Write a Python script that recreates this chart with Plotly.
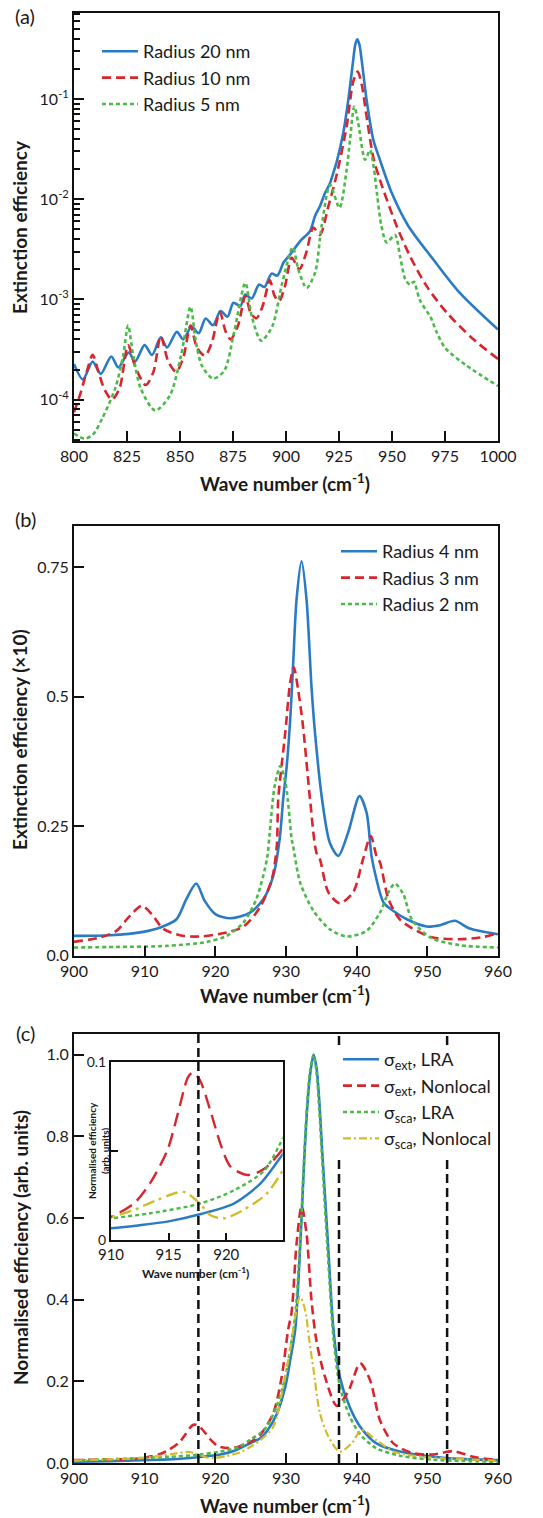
import plotly.graph_objects as go

# ---------------- Panel (a) data (log scale) ----------------
a_x_r20 = [800, 804.2, 808.8, 812.6, 817.6, 820.9, 825.8, 828.8, 833.3, 836.8, 840.9, 843.9,
           848.5, 851.5, 855.5, 858.8, 862.1, 865.6, 869.1, 872.4, 875.2, 878.5, 880.8, 883.8,
           887.3, 889.8, 893.2, 895.9, 898.9, 901.9, 906.6, 911.3, 913.7, 916.0, 918.4, 920.8,
           922.3, 924.0, 927.0, 929.4, 931.7, 932.7, 933.6, 934.6, 935.7, 938.0, 941.2, 944.3,
           949.9, 957.7, 969.5, 982.0, 1000]
a_y_r20 = [2.27e-4, 1.59e-4, 2.4e-4, 1.81e-4, 2.7e-4, 2.1e-4, 2.96e-4, 2.4e-4, 3.5e-4, 2.79e-4,
           4.2e-4, 3.32e-4, 4.75e-4, 4.0e-4, 5.37e-4, 4.6e-4, 6.45e-4, 5.53e-4, 7.66e-4, 6.73e-4,
           9.27e-4, 8.59e-4, 1.12e-3, 1.02e-3, 1.41e-3, 1.33e-3, 1.81e-3, 1.73e-3, 2.35e-3, 2.8e-3,
           3.8e-3, 4.8e-3, 6.8e-3, 8.5e-3, 1.15e-2, 1.45e-2, 1.82e-2, 2.4e-2, 4.57e-2, 9.8e-2,
           0.244, 0.35, 0.393, 0.35, 0.244, 0.098, 0.039, 0.0247, 0.0115, 5.4e-3, 2.5e-3,
           1.16e-3, 5.0e-4]

a_x_r10 = [800, 803, 806, 808.8, 811.5, 814.5, 817.9, 821.5, 825.5, 829, 833.8, 837.5, 840.9,
           844.5, 848.2, 851.5, 855, 858, 861.8, 865, 868.8, 871.5, 873.9, 877.5, 880.8, 883.5,
           886.1, 889, 892.4, 894.5, 896.7, 899.5, 902.7, 906.3, 909.5, 912.9, 916, 920, 923.9,
           928.6, 931.7, 933.8, 935.7, 938, 941.2, 944.3, 952.2, 958.5, 966.4, 975.8, 988.4, 1000]
a_y_r10 = [7.5e-5, 1.15e-4, 1.9e-4, 2.8e-4, 1.9e-4, 1.25e-4, 1.0e-4, 1.3e-4, 3.5e-4, 2.1e-4,
           1.4e-4, 1.9e-4, 4.3e-4, 2.4e-4, 1.9e-4, 2.6e-4, 5.5e-4, 3.3e-4, 2.75e-4, 3.7e-4,
           7.5e-4, 4.8e-4, 4.0e-4, 5.6e-4, 1.08e-3, 7.2e-4, 6.5e-4, 8.6e-4, 1.55e-3, 1.1e-3,
           9.6e-4, 1.35e-3, 2.6e-3, 2.0e-3, 2.9e-3, 5.2e-3, 4.4e-3, 8.5e-3, 1.75e-2, 5.3e-2,
           0.149, 0.187, 0.14, 0.067, 0.026, 0.0156, 5.4e-3, 2.7e-3, 1.35e-3, 7.4e-4, 4.0e-4,
           2.55e-4]

a_x_r5 = [800, 805, 809, 813.3, 819.4, 823.2, 825.5, 827.7, 831.5, 838.3, 845.2, 850.5, 855,
          857.3, 860.3, 865.6, 870.9, 875.5, 880.8, 883.8, 888.3, 893.6, 898.2, 903.2, 905.8,
          909.7, 913.7, 916.8, 920.8, 925.2, 928.6, 930.2, 932.2, 934.1, 937.3, 939.6, 941.5,
          943.0, 945.0, 947.5, 951.4, 953.8, 956.2, 958.5, 960.3, 963.0, 966.4, 968.0, 971.1,
          975.0, 985.0, 1000]
a_y_r5 = [4.6e-5, 4.1e-5, 4.5e-5, 6.5e-5, 1.29e-4, 2.76e-4, 5.5e-4, 2.96e-4, 1.29e-4, 7.8e-5,
          1.1e-4, 2.76e-4, 8.45e-4, 4.0e-4, 2.19e-4, 1.62e-4, 1.95e-4, 4.68e-4, 1.46e-3, 6.84e-4,
          3.87e-4, 5.45e-4, 1.46e-3, 3.3e-3, 2.0e-3, 1.3e-3, 1.85e-3, 5.4e-3, 1.39e-2, 8.2e-3,
          1.96e-2, 3.9e-2, 0.084, 0.057, 0.0247, 0.031, 0.02, 0.011, 5.4e-3, 3.7e-3, 4.4e-3,
          2.7e-3, 1.6e-3, 1.4e-3, 1.5e-3, 1.0e-3, 7.6e-4, 6.8e-4, 4.7e-4, 3.3e-4, 2.2e-4, 1.37e-4]

a_names = ["Radius 20 nm", "Radius 10 nm", "Radius 5 nm"]
a_tickvals = [1e-4, 1e-3, 1e-2, 1e-1]
a_ticktext = ["10<sup>-4</sup>", "10<sup>-3</sup>", "10<sup>-2</sup>", "10<sup>-1</sup>"]

# ---------------- Panel (b) data ----------------
b_x_r4 = [900, 905.1, 909.8, 912.2, 914.5, 915.9, 917.3, 918.5, 920.0, 922.1, 924.9, 926.8,
          928.2, 929.1, 929.6, 930.1, 930.6, 931.0, 931.5, 932.2, 932.9, 933.6, 934.1, 935.1,
          936.2, 937.4, 938.8, 940.4, 941.4, 942.1, 942.8, 943.8, 945.2, 947.1, 949.9, 951.8,
          953.9, 956.0, 960]
b_y_r4 = [0.038, 0.039, 0.0456, 0.054, 0.070, 0.109, 0.139, 0.1055, 0.080, 0.072, 0.083, 0.109,
          0.154, 0.225, 0.302, 0.366, 0.457, 0.56, 0.689, 0.762, 0.689, 0.521, 0.431, 0.302,
          0.218, 0.1925, 0.238, 0.308, 0.276, 0.1925, 0.1475, 0.1025, 0.086, 0.070, 0.056,
          0.0586, 0.067, 0.052, 0.041]

b_x_r3 = [900, 903.7, 906.0, 907.9, 909.6, 911.0, 912.6, 915.0, 917.8, 921.6, 924.0, 926.3,
          928.0, 928.7, 928.9, 929.9, 930.6, 931.1, 931.7, 932.4, 933.4, 934.3, 934.8, 936.0,
          937.6, 939.5, 940.9, 942.0, 942.8, 943.3, 944.5, 946.1, 948.5, 950.8, 954.6, 957.5, 960]
b_y_r3 = [0.0263, 0.0348, 0.0476, 0.0766, 0.0959, 0.0798, 0.052, 0.039, 0.0367, 0.0444, 0.056,
          0.0928, 0.1475, 0.212, 0.302, 0.431, 0.528, 0.557, 0.515, 0.444, 0.302, 0.199, 0.186,
          0.122, 0.101, 0.122, 0.186, 0.231, 0.1925, 0.18, 0.109, 0.070, 0.0476, 0.0348, 0.0315,
          0.0348, 0.0425]

b_x_r2 = [900, 906.0, 913.1, 918.8, 921.6, 924.0, 925.8, 927.3, 927.7, 928.4, 929.2, 930.0,
          930.8, 931.0, 932.0, 933.9, 936.2, 938.6, 941.4, 943.3, 944.5, 945.4, 946.6, 947.8,
          950.4, 954.6, 960]
b_y_r2 = [0.0155, 0.0165, 0.0186, 0.0263, 0.038, 0.064, 0.109, 0.186, 0.238, 0.328, 0.366,
          0.328, 0.225, 0.212, 0.141, 0.086, 0.0508, 0.0367, 0.0476, 0.083, 0.122, 0.139,
          0.1185, 0.070, 0.0348, 0.020, 0.0155]

b_names = ["Radius 4 nm", "Radius 3 nm", "Radius 2 nm"]

# ---------------- Panel (c) data ----------------
c_x_ext_lra = [900, 905, 910, 912.5, 915, 917.8, 920.7, 923, 925, 926.3, 927.3, 928.7, 929.9,
               930.6, 931.3, 931.8, 932.2, 932.6, 933.0, 933.4, 933.9, 934.3, 934.7, 935.1,
               935.5, 936.0, 936.7, 937.6, 939.0, 940.5, 942.8, 946.1, 950.8, 955, 960]
c_y_ext_lra = [0.003, 0.0045, 0.0066, 0.0083, 0.0105, 0.0146, 0.0206, 0.032, 0.049, 0.06,
               0.078, 0.12, 0.187, 0.252, 0.326, 0.46, 0.60, 0.75, 0.87, 0.95, 1.0, 0.97, 0.89,
               0.77, 0.66, 0.52, 0.33, 0.212, 0.138, 0.089, 0.048, 0.028, 0.0155, 0.010, 0.007]

c_x_ext_nl = [900, 905, 908.4, 910, 912, 913.4, 914.9, 915.8, 916.7, 917.1, 917.7, 918.7, 919.5,
              920.4, 921.9, 923.3, 925, 926.3, 928.2, 929.4, 930.3, 930.8, 931.5, 932.2, 932.9,
              933.6, 934.3, 935.5, 937.2, 938.8, 940.5, 941.9, 943.3, 945.2, 948, 950.8, 953.7,
              956.5, 960]
c_y_ext_nl = [0.007, 0.0085, 0.010, 0.013, 0.0206, 0.032, 0.0506, 0.071, 0.0917, 0.094, 0.090,
              0.071, 0.054, 0.041, 0.0365, 0.040, 0.052, 0.068, 0.122, 0.212, 0.326, 0.37, 0.538,
              0.629, 0.563, 0.40, 0.30, 0.212, 0.140, 0.175, 0.244, 0.203, 0.105, 0.048, 0.024,
              0.021, 0.029, 0.015, 0.007]

c_x_sca_lra = [900, 905, 910, 913.4, 917.8, 920.7, 923.3, 925, 926.3, 927.3, 928.7, 929.9,
               930.6, 931.3, 931.8, 932.2, 932.6, 933.0, 933.4, 933.9, 934.3, 934.7, 935.1,
               935.5, 936.0, 936.7, 937.6, 939.0, 940.5, 942.8, 946.1, 950.8, 955, 960]
c_y_sca_lra = [0.006, 0.009, 0.0122, 0.015, 0.0206, 0.028, 0.039, 0.058, 0.072, 0.09, 0.14,
               0.21, 0.28, 0.36, 0.48, 0.61, 0.76, 0.88, 0.96, 1.0, 0.96, 0.87, 0.75, 0.63,
               0.49, 0.31, 0.19, 0.115, 0.07, 0.036, 0.018, 0.008, 0.005, 0.003]

c_x_sca_nl = [900, 905, 910, 912, 914, 916.3, 917.7, 918.6, 919.8, 921.5, 923.5, 925, 926.3,
              928.2, 929.6, 930.8, 931.3, 932, 932.7, 933.3, 933.9, 934.8, 936, 937.6, 939.3,
              940.7, 942.8, 945.2, 949, 955.6, 960]
c_y_sca_nl = [0.006, 0.009, 0.013, 0.0169, 0.0225, 0.027, 0.0206, 0.014, 0.0122, 0.0169, 0.026,
              0.040, 0.055, 0.089, 0.187, 0.30, 0.359, 0.408, 0.375, 0.30, 0.228, 0.122, 0.065,
              0.028, 0.048, 0.081, 0.056, 0.028, 0.0155, 0.009, 0.0056]

c_names = ["σ<sub>ext</sub>, LRA", "σ<sub>ext</sub>, Nonlocal",
           "σ<sub>sca</sub>, LRA", "σ<sub>sca</sub>, Nonlocal"]
c_vlines = [917.6, 937.5, 952.8]

# ---------------- styling ----------------
W, H = 543, 1518
BLUE, RED, GREEN, YELLOW = "#2b7bc4", "#d8262f", "#4cba48", "#d1bd2c"
FONT = "Lato"
TXT = "#1a1a1a"


def px_x(p):
    return p / W


def px_y(p):
    return 1 - p / H


xdom = [px_x(74), px_x(498)]
dom_a = [px_y(440.7), px_y(13)]
dom_b = [px_y(955.5), px_y(526)]
dom_c = [px_y(1463), px_y(1034)]
inset_x = [px_x(111), px_x(282.7)]
inset_y = [px_y(1240), px_y(1062)]

fig = go.Figure()

styles = [dict(color=BLUE, width=2.6),
          dict(color=RED, width=2.6, dash="9px,5px"),
          dict(color=GREEN, width=2.6, dash="4px,3px")]

for xs, ys, nm, st in zip([a_x_r20, a_x_r10, a_x_r5], [a_y_r20, a_y_r10, a_y_r5], a_names, styles):
    fig.add_trace(go.Scatter(x=xs, y=ys, name=nm, mode="lines", line=dict(shape="spline", smoothing=0.8, **st),
                             xaxis="x", yaxis="y", legend="legend"))

for xs, ys, nm, st in zip([b_x_r4, b_x_r3, b_x_r2], [b_y_r4, b_y_r3, b_y_r2], b_names, styles):
    fig.add_trace(go.Scatter(x=xs, y=ys, name=nm, mode="lines", line=dict(shape="spline", smoothing=0.8, **st),
                             xaxis="x2", yaxis="y2", legend="legend2"))

c_styles = [dict(color=BLUE, width=2.6),
            dict(color=RED, width=2.6, dash="9px,5px"),
            dict(color=GREEN, width=2.6, dash="4px,3px"),
            dict(color=YELLOW, width=2.2, dash="8px,3px,2px,3px")]
c_series = [(c_x_ext_lra, c_y_ext_lra), (c_x_ext_nl, c_y_ext_nl),
            (c_x_sca_lra, c_y_sca_lra), (c_x_sca_nl, c_y_sca_nl)]
for (xs, ys), nm, st in zip(c_series, c_names, c_styles):
    fig.add_trace(go.Scatter(x=xs, y=ys, name=nm, mode="lines", line=dict(shape="spline", smoothing=0.8, **st),
                             xaxis="x3", yaxis="y3", legend="legend3"))

inset_styles = [dict(color=BLUE, width=2.4),
                dict(color=RED, width=2.4, dash="14px,7px"),
                dict(color=GREEN, width=2.4, dash="4px,3px"),
                dict(color=YELLOW, width=2.4, dash="12px,5px,3px,5px")]
for (xs, ys), nm, st in zip(c_series, c_names, inset_styles):
    fig.add_trace(go.Scatter(x=xs, y=ys, name=nm, mode="lines", line=dict(shape="spline", smoothing=0.8, **st),
                             xaxis="x4", yaxis="y4", showlegend=False))

axis_common = dict(showline=True, linewidth=2, linecolor="#111", mirror=True, ticks="inside",
                   tickwidth=2, tickcolor="#111", showgrid=False, zeroline=False, automargin=False,
                   tickfont=dict(family=FONT, size=16, color=TXT))

minor_vals = [m * 10.0 ** e for e in range(-5, 0) for m in range(2, 10)]
legend_font = dict(family=FONT, size=18, color=TXT)

fig.update_layout(
    width=W, height=H, margin=dict(l=0, r=0, t=0, b=0, pad=0, autoexpand=False),
    paper_bgcolor="white", plot_bgcolor="white",
    font=dict(family=FONT, color=TXT),
    xaxis=dict(domain=xdom, anchor="y", range=[800, 1000], tickvals=list(range(800, 1001, 25)),
               ticklen=10, **axis_common),
    yaxis=dict(domain=dom_a, anchor="x", type="log", range=[-4.409, -0.143],
               tickvals=a_tickvals, ticktext=a_ticktext, ticklen=10,
               minor=dict(tickvals=minor_vals, ticks="inside", ticklen=6, tickwidth=1.5, tickcolor="#111"),
               **axis_common),
    xaxis2=dict(domain=xdom, anchor="y2", range=[900, 960], tickvals=list(range(900, 961, 10)),
                ticklen=10, **axis_common),
    yaxis2=dict(domain=dom_b, anchor="x2", range=[0, 0.83], tickvals=[0, 0.25, 0.5, 0.75],
                ticktext=["0.0", "0.25", "0.5", "0.75"], ticklen=10, **axis_common),
    xaxis3=dict(domain=xdom, anchor="y3", range=[900, 960], tickvals=list(range(900, 961, 10)),
                ticklen=10, **axis_common),
    yaxis3=dict(domain=dom_c, anchor="x3", range=[0, 1.051], tickvals=[0, 0.2, 0.4, 0.6, 0.8, 1.0],
                ticktext=["0.0", "0.2", "0.4", "0.6", "0.8", "1.0"], ticklen=10, **axis_common),
    xaxis4=dict(domain=inset_x, anchor="y4", range=[910, 924.9], tickvals=[910, 915, 920],
                ticklen=7, showline=True, linewidth=2, linecolor="#111", mirror=True, ticks="inside",
                tickwidth=2, tickcolor="#111", showgrid=False, zeroline=False, automargin=False,
                tickfont=dict(family=FONT, size=15, color=TXT)),
    yaxis4=dict(domain=inset_y, anchor="x4", range=[0, 0.1], tickvals=[0, 0.05, 0.1],
                ticktext=["0", "", "0.1"], ticklen=7, showline=True, linewidth=2, linecolor="#111",
                mirror=True, ticks="inside", tickwidth=2, tickcolor="#111", showgrid=False,
                zeroline=False, automargin=False, tickfont=dict(family=FONT, size=14, color=TXT)),
    legend=dict(x=px_x(97), y=px_y(33), xanchor="left", yanchor="top", bgcolor="rgba(0,0,0,0)",
                itemwidth=36, font=legend_font),
    legend2=dict(x=px_x(336), y=px_y(533), xanchor="left", yanchor="top", bgcolor="rgba(0,0,0,0)",
                 itemwidth=36, font=legend_font),
    legend3=dict(x=px_x(338), y=px_y(1041), xanchor="left", yanchor="top", bgcolor="rgba(0,0,0,0)",
                 itemwidth=36, font=legend_font),
)

# vertical dashed marker lines in panel (c)
vdash = dict(color="#111", width=2.5, dash="9px,5px")
fig.add_shape(type="line", xref="x3", yref="y3", x0=c_vlines[0], x1=c_vlines[0], y0=0, y1=1.051, line=vdash)
for xv in c_vlines[1:]:
    fig.add_shape(type="line", xref="x3", yref="y3", x0=xv, x1=xv, y0=0, y1=0.743, line=vdash)
    fig.add_shape(type="line", xref="x3", yref="y3", x0=xv, x1=xv, y0=1.024, y1=1.051, line=vdash)

ann = []
title_font = dict(family=FONT, size=19, color=TXT, weight="bold")
center = dict(xref="paper", yref="paper", showarrow=False, xanchor="center", yanchor="middle")
for lab, yy in [("(a)", 16), ("(b)", 519), ("(c)", 1033)]:
    ann.append(dict(text=lab, x=px_x(25), y=px_y(yy), font=dict(family=FONT, size=20, color=TXT), **center))
for yy in [483, 995, 1504]:
    ann.append(dict(text="Wave number (cm<sup>-1</sup>)", x=px_x(285), y=px_y(yy), font=title_font, **center))
for txt, yy in [("Extinction efficiency", 227), ("Extinction efficiency (×10)", 740),
                ("Normalised efficiency (arb. units)", 1248)]:
    ann.append(dict(text=txt, x=px_x(20), y=px_y(yy), textangle=-90, font=title_font, **center))
ann.append(dict(text="Wave number (cm<sup>-1</sup>)", x=px_x(195), y=px_y(1273),
                font=dict(family=FONT, size=12, color=TXT, weight="bold"), **center))
ann.append(dict(text="Normalised efficiency<br>(arb. units)", x=px_x(98), y=px_y(1151), textangle=-90,
                font=dict(family=FONT, size=10, color=TXT, weight="bold"), **center))
fig.update_layout(annotations=ann)

fig.write_html("out.html", config={"displayModeBar": False},
               post_script="document.body.style.margin='0';document.body.style.padding='0';")
